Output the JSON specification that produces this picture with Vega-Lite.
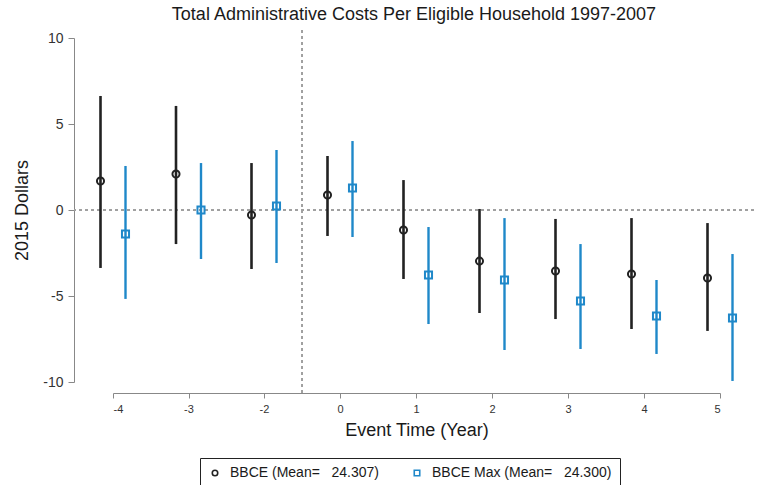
{
  "$schema": "https://vega.github.io/schema/vega-lite/v6.json",
  "width": 680,
  "height": 363,
  "autosize": {"type": "none"},
  "padding": {"left": 74, "top": 30, "right": 12, "bottom": 92},
  "background": "white",
  "config": {
    "font": "Liberation Sans",
    "view": {"stroke": null},
    "axis": {"grid": false, "domainColor": "#888888", "tickColor": "#888888", "labelColor": "#333333", "titleColor": "#1a1a1a", "titleFontWeight": "normal", "titleFontSize": 18}
  },
  "title": {"text": "Total Administrative Costs Per Eligible Household 1997-2007", "fontSize": 18, "fontWeight": "normal", "color": "#1a1a1a", "offset": 6, "anchor": "middle", "frame": "group"},
  "data": {"values": [
    {"t": -4, "series": "BBCE (Mean=\u00a0\u00a0 24.307)", "est": 1.69, "lo": -3.37, "hi": 6.63},
    {"t": -3, "series": "BBCE (Mean=\u00a0\u00a0 24.307)", "est": 2.09, "lo": -1.98, "hi": 6.05},
    {"t": -2, "series": "BBCE (Mean=\u00a0\u00a0 24.307)", "est": -0.29, "lo": -3.43, "hi": 2.73},
    {"t": 0, "series": "BBCE (Mean=\u00a0\u00a0 24.307)", "est": 0.87, "lo": -1.51, "hi": 3.14},
    {"t": 1, "series": "BBCE (Mean=\u00a0\u00a0 24.307)", "est": -1.16, "lo": -4.01, "hi": 1.74},
    {"t": 2, "series": "BBCE (Mean=\u00a0\u00a0 24.307)", "est": -2.97, "lo": -5.99, "hi": 0.06},
    {"t": 3, "series": "BBCE (Mean=\u00a0\u00a0 24.307)", "est": -3.55, "lo": -6.34, "hi": -0.52},
    {"t": 4, "series": "BBCE (Mean=\u00a0\u00a0 24.307)", "est": -3.72, "lo": -6.92, "hi": -0.47},
    {"t": 5, "series": "BBCE (Mean=\u00a0\u00a0 24.307)", "est": -3.95, "lo": -7.03, "hi": -0.76},
    {"t": -4, "series": "BBCE Max (Mean=\u00a0\u00a0 24.300)", "est": -1.40, "lo": -5.17, "hi": 2.56},
    {"t": -3, "series": "BBCE Max (Mean=\u00a0\u00a0 24.300)", "est": 0.0, "lo": -2.85, "hi": 2.73},
    {"t": -2, "series": "BBCE Max (Mean=\u00a0\u00a0 24.300)", "est": 0.23, "lo": -3.08, "hi": 3.49},
    {"t": 0, "series": "BBCE Max (Mean=\u00a0\u00a0 24.300)", "est": 1.28, "lo": -1.57, "hi": 4.01},
    {"t": 1, "series": "BBCE Max (Mean=\u00a0\u00a0 24.300)", "est": -3.78, "lo": -6.63, "hi": -0.99},
    {"t": 2, "series": "BBCE Max (Mean=\u00a0\u00a0 24.300)", "est": -4.07, "lo": -8.14, "hi": -0.47},
    {"t": 3, "series": "BBCE Max (Mean=\u00a0\u00a0 24.300)", "est": -5.29, "lo": -8.08, "hi": -1.98},
    {"t": 4, "series": "BBCE Max (Mean=\u00a0\u00a0 24.300)", "est": -6.16, "lo": -8.37, "hi": -4.07},
    {"t": 5, "series": "BBCE Max (Mean=\u00a0\u00a0 24.300)", "est": -6.28, "lo": -9.94, "hi": -2.56}
  ]},
  "layer": [
    {
      "mark": {"type": "rule", "strokeDash": [3, 3], "color": "#a0a0a0", "strokeWidth": 1},
      "encoding": {"y": {"datum": 0, "type": "quantitative", "scale": {"domain": [-10, 10], "range": [352, 8], "nice": false, "zero": false}}}
    },
    {
      "mark": {"type": "rule", "strokeDash": [3, 3], "color": "#a0a0a0", "strokeWidth": 1},
      "encoding": {"x": {"datum": -1, "type": "quantitative", "scale": {"domain": [-4, -2, 0, 5], "range": [39, 190, 266, 646], "nice": false, "zero": false}}}
    },
    {
      "transform": [{"filter": "indexof(datum.series, 'Max') < 0"}],
      "mark": {"type": "rule", "color": "#222222", "strokeWidth": 2.6, "xOffset": -12.5},
      "encoding": {
        "x": {"field": "t", "type": "quantitative", "scale": {"domain": [-4, -2, 0, 5], "range": [39, 190, 266, 646], "nice": false, "zero": false},
              "axis": {"values": [-4, -3, -2, 0, 1, 2, 3, 4, 5], "labelExpr": "'' + datum.value", "title": "Event Time (Year)", "labelFontSize": 11, "tickSize": 5, "labelPadding": 5, "titlePadding": 7}},
        "y": {"field": "lo", "type": "quantitative", "scale": {"domain": [-10, 10], "range": [352, 8], "nice": false, "zero": false},
              "axis": {"values": [-10, -5, 0, 5, 10], "labelExpr": "'' + datum.value", "title": "2015 Dollars", "labelFontSize": 14, "tickSize": 6, "labelPadding": 5, "titlePadding": 11}},
        "y2": {"field": "hi"}
      }
    },
    {
      "transform": [{"filter": "indexof(datum.series, 'Max') >= 0"}],
      "mark": {"type": "rule", "color": "#1f88c9", "strokeWidth": 2.4, "xOffset": 12.5},
      "encoding": {
        "x": {"field": "t", "type": "quantitative"},
        "y": {"field": "lo", "type": "quantitative"},
        "y2": {"field": "hi"}
      }
    },
    {
      "transform": [{"filter": "indexof(datum.series, 'Max') < 0"}],
      "mark": {"type": "point", "filled": false, "strokeWidth": 2, "size": 50, "opacity": 1, "xOffset": -12.5},
      "encoding": {
        "x": {"field": "t", "type": "quantitative"},
        "y": {"field": "est", "type": "quantitative"},
        "color": {"field": "series", "type": "nominal",
                  "scale": {"domain": ["BBCE (Mean=\u00a0\u00a0 24.307)", "BBCE Max (Mean=\u00a0\u00a0 24.300)"], "range": ["#222222", "#1f88c9"]},
                  "legend": {"orient": "none", "legendX": 126, "legendY": 428, "direction": "horizontal", "title": null,
                             "strokeColor": "#222222", "padding": 8, "labelFontSize": 14, "labelColor": "#1a1a1a", "labelLimit": 400,
                             "symbolSize": 30, "symbolStrokeWidth": 1.6, "labelOffset": 8, "columnPadding": 30}},
        "shape": {"field": "series", "type": "nominal",
                  "scale": {"domain": ["BBCE (Mean=\u00a0\u00a0 24.307)", "BBCE Max (Mean=\u00a0\u00a0 24.300)"], "range": ["circle", "square"]}}
      }
    },
    {
      "transform": [{"filter": "indexof(datum.series, 'Max') >= 0"}],
      "mark": {"type": "point", "filled": false, "strokeWidth": 2, "size": 50, "opacity": 1, "xOffset": 12.5},
      "encoding": {
        "x": {"field": "t", "type": "quantitative"},
        "y": {"field": "est", "type": "quantitative"},
        "color": {"field": "series", "type": "nominal"},
        "shape": {"field": "series", "type": "nominal"}
      }
    }
  ]
}
